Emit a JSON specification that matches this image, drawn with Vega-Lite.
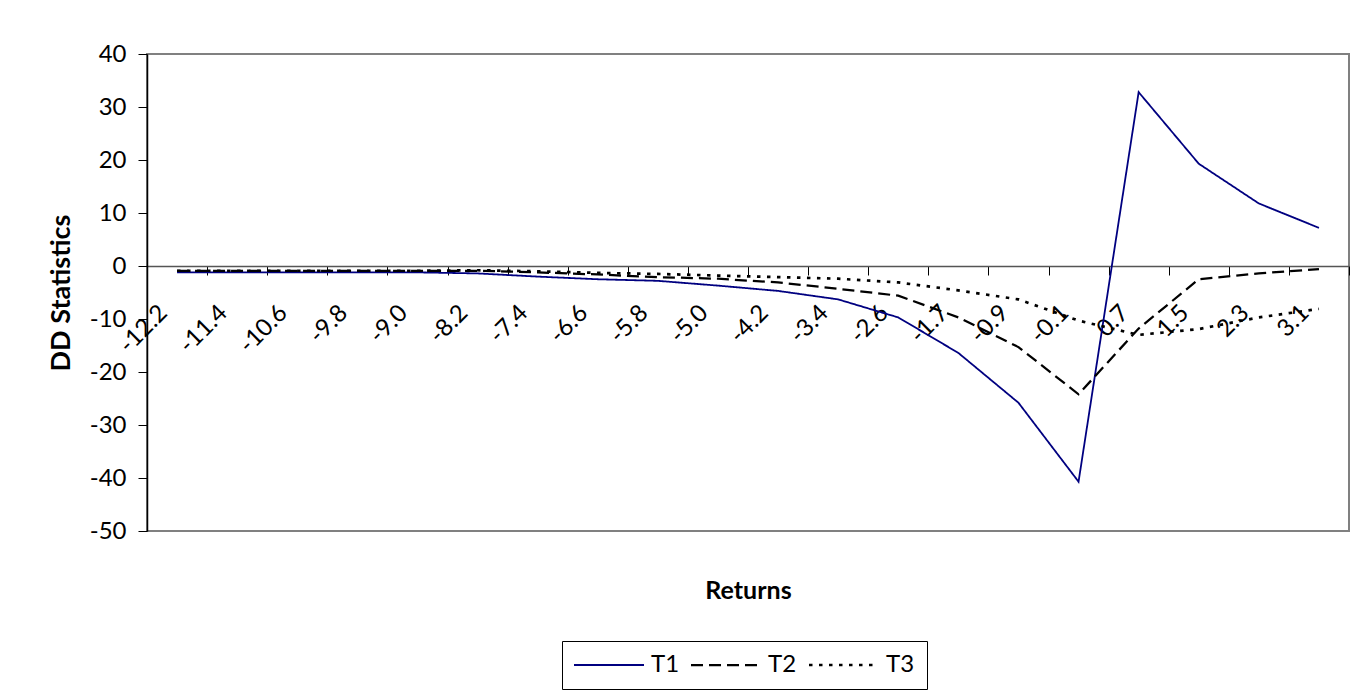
{
  "$schema": "https://vega.github.io/schema/vega-lite/v6.json",
  "autosize": "none",
  "width": 1202,
  "height": 477,
  "padding": {"left": 147, "top": 54, "right": 21, "bottom": 162},
  "background": "white",
  "data": {
    "values": [
      {"r": "-12.2", "s": "T1", "v": -1.2}, {"r": "-11.4", "s": "T1", "v": -1.2}, {"r": "-10.6", "s": "T1", "v": -1.2}, {"r": "-9.8", "s": "T1", "v": -1.2}, {"r": "-9.0", "s": "T1", "v": -1.2},
      {"r": "-8.2", "s": "T1", "v": -1.4}, {"r": "-7.4", "s": "T1", "v": -2.0}, {"r": "-6.6", "s": "T1", "v": -2.5}, {"r": "-5.8", "s": "T1", "v": -2.8}, {"r": "-5.0", "s": "T1", "v": -3.7},
      {"r": "-4.2", "s": "T1", "v": -4.7}, {"r": "-3.4", "s": "T1", "v": -6.3}, {"r": "-2.6", "s": "T1", "v": -9.7}, {"r": "-1.7", "s": "T1", "v": -16.4}, {"r": "-0.9", "s": "T1", "v": -25.8},
      {"r": "-0.1", "s": "T1", "v": -40.7}, {"r": "0.7", "s": "T1", "v": 32.8}, {"r": "1.5", "s": "T1", "v": 19.3}, {"r": "2.3", "s": "T1", "v": 11.8}, {"r": "3.1", "s": "T1", "v": 7.2},
      {"r": "-12.2", "s": "T2", "v": -0.9}, {"r": "-11.4", "s": "T2", "v": -0.9}, {"r": "-10.6", "s": "T2", "v": -0.9}, {"r": "-9.8", "s": "T2", "v": -0.9}, {"r": "-9.0", "s": "T2", "v": -0.9},
      {"r": "-8.2", "s": "T2", "v": -0.9}, {"r": "-7.4", "s": "T2", "v": -1.2}, {"r": "-6.6", "s": "T2", "v": -1.6}, {"r": "-5.8", "s": "T2", "v": -2.1}, {"r": "-5.0", "s": "T2", "v": -2.4},
      {"r": "-4.2", "s": "T2", "v": -3.1}, {"r": "-3.4", "s": "T2", "v": -4.3}, {"r": "-2.6", "s": "T2", "v": -5.6}, {"r": "-1.7", "s": "T2", "v": -9.7}, {"r": "-0.9", "s": "T2", "v": -15.3},
      {"r": "-0.1", "s": "T2", "v": -24.2}, {"r": "0.7", "s": "T2", "v": -11.8}, {"r": "1.5", "s": "T2", "v": -2.5}, {"r": "2.3", "s": "T2", "v": -1.4}, {"r": "3.1", "s": "T2", "v": -0.6},
      {"r": "-12.2", "s": "T3", "v": -0.9}, {"r": "-11.4", "s": "T3", "v": -0.9}, {"r": "-10.6", "s": "T3", "v": -0.9}, {"r": "-9.8", "s": "T3", "v": -0.9}, {"r": "-9.0", "s": "T3", "v": -0.9},
      {"r": "-8.2", "s": "T3", "v": -0.8}, {"r": "-7.4", "s": "T3", "v": -1.0}, {"r": "-6.6", "s": "T3", "v": -1.3}, {"r": "-5.8", "s": "T3", "v": -1.5}, {"r": "-5.0", "s": "T3", "v": -1.8},
      {"r": "-4.2", "s": "T3", "v": -2.1}, {"r": "-3.4", "s": "T3", "v": -2.4}, {"r": "-2.6", "s": "T3", "v": -3.1}, {"r": "-1.7", "s": "T3", "v": -4.6}, {"r": "-0.9", "s": "T3", "v": -6.3},
      {"r": "-0.1", "s": "T3", "v": -10.3}, {"r": "0.7", "s": "T3", "v": -13.0}, {"r": "1.5", "s": "T3", "v": -11.9}, {"r": "2.3", "s": "T3", "v": -9.7}, {"r": "3.1", "s": "T3", "v": -8.1}
    ]
  },
  "mark": {"type": "line", "interpolate": "linear"},
  "encoding": {
    "x": {
      "field": "r",
      "type": "ordinal",
      "sort": ["-12.2", "-11.4", "-10.6", "-9.8", "-9.0", "-8.2", "-7.4", "-6.6", "-5.8", "-5.0", "-4.2", "-3.4", "-2.6", "-1.7", "-0.9", "-0.1", "0.7", "1.5", "2.3", "3.1"],
      "scale": {"type": "band", "paddingInner": 0, "paddingOuter": 0},
      "bandPosition": 0.5,
      "axis": {
        "offset": -265,
        "domainColor": "#555555",
        "domainWidth": 1.5,
        "tickColor": "#000000",
        "tickSize": 9,
        "tickBand": "extent",
        "labelAngle": -45,
        "labelAlign": "right",
        "labelBaseline": "middle",
        "labelFont": "Lato",
        "labelFontSize": 24,
        "labelColor": "#000000",
        "labelPadding": 34,
        "labelOffset": -14,
        "labelOverlap": false,
        "title": "Returns",
        "titleFont": "Lato",
        "titleFontSize": 25,
        "titleFontWeight": "bold",
        "titleColor": "#000000",
        "titleBaseline": "alphabetic",
        "titleY": 332
      }
    },
    "y": {
      "field": "v",
      "type": "quantitative",
      "scale": {"domain": [-50, 40], "nice": false, "zero": false},
      "axis": {
        "values": [-50, -40, -30, -20, -10, 0, 10, 20, 30, 40],
        "labelExpr": "toString(datum.value)",
        "grid": false,
        "domainColor": "#000000",
        "domainWidth": 1.5,
        "tickColor": "#000000",
        "tickSize": 9,
        "labelFont": "Lato",
        "labelFontSize": 24,
        "labelColor": "#000000",
        "labelPadding": 12,
        "title": "DD Statistics",
        "titleFont": "Lato",
        "titleFontSize": 27,
        "titleFontWeight": "bold",
        "titleColor": "#000000",
        "titleBaseline": "alphabetic",
        "titleX": -78
      }
    },
    "color": {
      "field": "s",
      "type": "nominal",
      "scale": {"domain": ["T1", "T2", "T3"], "range": ["#000080", "#000000", "#000000"]},
      "legend": {"title": null}
    },
    "strokeDash": {
      "field": "s",
      "type": "nominal",
      "scale": {"domain": ["T1", "T2", "T3"], "range": [[1, 0], [12, 6], [3.5, 6.5]]},
      "legend": {"title": null}
    },
    "strokeWidth": {
      "field": "s",
      "type": "nominal",
      "scale": {"domain": ["T1", "T2", "T3"], "range": [1.8, 2.7, 2.7]},
      "legend": null
    }
  },
  "config": {
    "view": {"stroke": "#808080", "strokeWidth": 2},
    "legend": {
      "orient": "none",
      "legendX": 415,
      "legendY": 587,
      "direction": "horizontal",
      "strokeColor": "#000000",
      "padding": 12,
      "symbolType": "M-3.5,0H3.5",
      "symbolSize": 400,
      "symbolOffset": 23,
      "symbolStrokeWidth": 2,
      "labelFont": "Lato",
      "labelFontSize": 24,
      "labelColor": "#000000",
      "labelOffset": 30,
      "columnPadding": 6
    }
  }
}
